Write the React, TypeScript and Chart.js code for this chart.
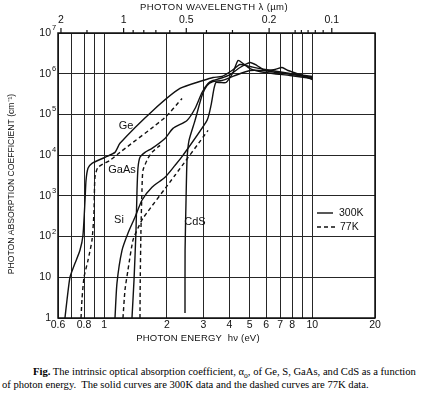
import React, { useEffect, useRef } from "react";
import { Chart, registerables } from "chart.js";
Chart.register(...registerables);

// ---------- data (photon energy in eV, absorption coefficient in cm^-1) ----------
const ge300E = [0.648, 0.663, 0.685, 0.724, 0.765, 0.791, 0.809, 0.818, 0.836, 0.874, 1.009, 1.127, 1.191, 1.716, 2.313, 2.984, 3.333, 3.683, 4.113, 4.494, 5.019, 5.926, 7.812, 10];
const ge300A = [1, 2.8, 10, 22, 46, 108, 780, 2400, 4750, 6300, 8840, 11700, 19500, 125000, 434000, 681000, 807000, 854000, 1.2e6, 1.68e6, 1.5e6, 1.27e6, 1.01e6, 854000];

const ge77E = [0.774, 0.782, 0.8, 0.836, 0.874, 0.893, 0.903, 0.934, 1.066, 1.191, 1.96, 2.366];
const ge77A = [1, 2.8, 10, 26, 82, 375, 2860, 5020, 7460, 11700, 84400, 247000];

const gaas300E = [1.36, 1.391, 1.422, 1.438, 1.453, 1.486, 1.571, 1.697, 1.96, 2.141, 2.5, 2.732, 2.951, 3.154, 3.333, 3.602, 4.023, 4.494, 5.019, 5.424, 5.926, 7.393, 10];
const gaas300A = [1, 8.5, 143, 1372, 4750, 8840, 11700, 14700, 25800, 45400, 71300, 140000, 346000, 575000, 681000, 763000, 955000, 1.42e6, 1.88e6, 1.59e6, 1.2e6, 1.01e6, 807000];

const gaas77E = [1.486, 1.49, 1.502, 1.519, 1.536, 1.623, 1.697, 1.854];
const gaas77A = [1, 8.5, 143, 1372, 4240, 8350, 11700, 17400];

const si300E = [1.127, 1.152, 1.218, 1.301, 1.406, 1.519, 1.697, 1.96, 2.189, 2.391, 3.119, 3.26, 3.37, 3.445, 3.602, 3.849, 4.159, 4.395, 4.645, 5.019, 5.926, 7.812, 10];
const si300A = [1, 7.2, 46, 121, 299, 780, 1625, 2860, 5620, 9890, 71300, 166000, 434000, 608000, 608000, 608000, 1.07e6, 2.11e6, 1.78e6, 1.34e6, 1.07e6, 904000, 763000];

const si77E = [1.231, 1.259, 1.301, 1.375, 1.453, 1.536, 2.189, 3.154];
const si77A = [1, 4.9, 15, 82, 161, 282, 3200, 40500];

const cds300E = [2.445, 2.447, 2.473, 2.5, 2.556, 2.732, 2.951, 3.119, 3.333, 3.683, 4.251, 5.019, 5.926, 6.62, 7.152, 7.641, 8.728, 10];
const cds300A = [1.33, 46, 780, 7460, 23000, 71300, 292000, 514000, 644000, 681000, 904000, 1.2e6, 1.2e6, 1.27e6, 1.42e6, 1.2e6, 955000, 720000];

// ---------- axes ----------
const energyTicks = [0.6, 0.7, 0.8, 0.9, 1, 2, 3, 4, 5, 6, 7, 8, 9, 10, 20];
const energyLabelValues = [0.6, 0.8, 1, 2, 3, 4, 5, 6, 7, 8, 10, 20];
const energyLabels = ["0.6", "0.8", "1", "2", "3", "4", "5", "6", "7", "8", "10", "20"];

const alphaTicks = [1, 10, 1e2, 1e3, 1e4, 1e5, 1e6, 1e7];
const alphaTickBase = ["1", "10", "10", "10", "10", "10", "10", "10"];
const alphaTickExp = ["", "", "2", "3", "4", "5", "6", "7"];

const HC = 1.24; // eV·µm
const lambdaMajor = [2, 1, 0.5, 0.2, 0.1];
const lambdaMajorLabels = ["2", "1", "0.5", "0.2", "0.1"];
const lambdaMinor = [1.5, 0.9, 0.8, 0.7, 0.6, 0.4, 0.3, 0.15, 0.14, 0.13, 0.12, 0.11];

const curveLabels = ["Ge", "GaAs", "Si", "CdS"];
const curveLabelE = [1.273, 1.218, 1.178, 2.73];
const curveLabelA = [53000, 4300, 252, 225];

const INK = "#111";
const SANS = '"Liberation Sans", Arial, sans-serif';

function series(E: number[], A: number[], dashed: boolean) {
  return {
    data: E.map((e, i) => ({ x: e, y: A[i] })),
    borderColor: INK,
    borderWidth: 1.4,
    borderDash: dashed ? [4, 3] : [],
    pointRadius: 0,
    tension: 0.2,
    fill: false,
  };
}

const overlay = {
  id: "overlay",
  afterDraw(chart: any) {
    const { ctx, chartArea: ca, scales } = chart;
    const xs = scales.x;
    const ys = scales.y;
    ctx.save();
    ctx.strokeStyle = INK;
    ctx.fillStyle = INK;
    ctx.lineWidth = 1.5;
    ctx.setLineDash([]);
    ctx.strokeRect(ca.left, ca.top, ca.right - ca.left, ca.bottom - ca.top);

    // bottom tick labels
    ctx.font = `10.5px ${SANS}`;
    ctx.textAlign = "center";
    ctx.textBaseline = "middle";
    energyLabelValues.forEach((v, i) => {
      ctx.fillText(energyLabels[i], xs.getPixelForValue(v), ca.bottom + 7);
    });

    // left tick labels
    alphaTicks.forEach((v, i) => {
      const y = ys.getPixelForValue(v);
      ctx.font = `10.5px ${SANS}`;
      ctx.textAlign = "right";
      ctx.fillText(alphaTickBase[i], ca.left - 7, y);
      if (alphaTickExp[i]) {
        ctx.font = `7.5px ${SANS}`;
        ctx.textAlign = "left";
        ctx.fillText(alphaTickExp[i], ca.left - 6, y - 5);
      }
    });

    // top wavelength axis
    ctx.lineWidth = 1.2;
    ctx.beginPath();
    lambdaMajor.forEach((l) => {
      const x = xs.getPixelForValue(HC / l);
      ctx.moveTo(x, ca.top);
      ctx.lineTo(x, ca.top - 5);
    });
    lambdaMinor.forEach((l) => {
      const x = xs.getPixelForValue(HC / l);
      ctx.moveTo(x, ca.top);
      ctx.lineTo(x, ca.top - 3);
    });
    ctx.stroke();
    ctx.font = `10.5px ${SANS}`;
    ctx.textAlign = "center";
    lambdaMajor.forEach((l, i) => {
      ctx.fillText(lambdaMajorLabels[i], xs.getPixelForValue(HC / l), 20);
    });

    // axis titles
    ctx.font = `9.5px ${SANS}`;
    (ctx as any).letterSpacing = "0.4px";
    ctx.fillText("PHOTON WAVELENGTH λ (µm)", 214, 7);
    (ctx as any).letterSpacing = "0.2px";
    ctx.fillText("PHOTON ENERGY  hν (eV)", 198, 338);
    (ctx as any).letterSpacing = "0px";
    ctx.font = `8.6px ${SANS}`;
    ctx.save();
    ctx.translate(12, 184);
    ctx.rotate(-Math.PI / 2);
    ctx.fillText("PHOTON ABSORPTION COEFFICIENT (cm⁻¹)", 0, 0);
    ctx.restore();

    // legend
    ctx.lineWidth = 1.4;
    ctx.beginPath();
    ctx.moveTo(317, 213);
    ctx.lineTo(333, 213);
    ctx.stroke();
    ctx.setLineDash([4, 3]);
    ctx.beginPath();
    ctx.moveTo(317, 227);
    ctx.lineTo(335, 227);
    ctx.stroke();
    ctx.setLineDash([]);
    ctx.font = `10.5px ${SANS}`;
    ctx.textAlign = "left";
    ctx.fillText("300K", 339, 213);
    ctx.fillText("77K", 340, 227);

    // curve labels
    ctx.font = `11px ${SANS}`;
    ctx.textAlign = "center";
    curveLabels.forEach((t, i) => {
      ctx.fillText(t, xs.getPixelForValue(curveLabelE[i]), ys.getPixelForValue(curveLabelA[i]));
    });
    ctx.restore();
  },
};

export default function App() {
  const ref = useRef<HTMLCanvasElement>(null);
  useEffect(() => {
    const chart = new Chart(ref.current as HTMLCanvasElement, {
      type: "line",
      data: {
        datasets: [
          series(ge300E, ge300A, false),
          series(ge77E, ge77A, true),
          series(gaas300E, gaas300A, false),
          series(gaas77E, gaas77A, true),
          series(si300E, si300A, false),
          series(si77E, si77A, true),
          series(cds300E, cds300A, false),
        ],
      },
      options: {
        animation: false,
        responsive: false,
        devicePixelRatio: 1,
        layout: { padding: { top: 33, right: 48, left: 0, bottom: 0 } },
        plugins: { legend: { display: false }, tooltip: { enabled: false } },
        scales: {
          x: {
            type: "logarithmic",
            min: 0.6,
            max: 20,
            afterBuildTicks: (s: any) => {
              s.ticks = energyTicks.map((v) => ({ value: v }));
            },
            afterFit: (s: any) => {
              s.height = 32;
            },
            ticks: { display: false },
            grid: { color: "#262626", lineWidth: 1, drawTicks: false },
            border: { display: false },
          },
          y: {
            type: "logarithmic",
            min: 1,
            max: 1e7,
            afterBuildTicks: (s: any) => {
              s.ticks = alphaTicks.map((v) => ({ value: v }));
            },
            afterFit: (s: any) => {
              s.width = 58;
            },
            ticks: { display: false },
            grid: { color: "#262626", lineWidth: 1, drawTicks: false },
            border: { display: false },
          },
        },
      } as any,
      plugins: [overlay],
    });
    return () => chart.destroy();
  }, []);

  const cap: React.CSSProperties = {
    position: "absolute",
    whiteSpace: "nowrap",
    fontFamily: '"Liberation Serif", "Times New Roman", serif',
    fontSize: "10.6px",
    lineHeight: "13px",
    color: "#000",
  };

  return (
    <div style={{ position: "absolute", left: 0, top: 0, width: 423, height: 393, background: "#fff", overflow: "hidden" }}>
      <canvas ref={ref} width={423} height={350} style={{ position: "absolute", left: 0, top: 0, width: 423, height: 350 }} />
      <div style={{ ...cap, left: 33, top: 365 }}>
        <b>Fig.</b> The intrinsic optical absorption coefficient, α<sub style={{ fontSize: "7.5px" }}>o</sub>, of Ge, S, GaAs, and CdS as a function
      </div>
      <div style={{ ...cap, left: 2, top: 378 }}>
        of photon energy.&nbsp; The solid curves are 300K data and the dashed curves are 77K data.
      </div>
    </div>
  );
}
